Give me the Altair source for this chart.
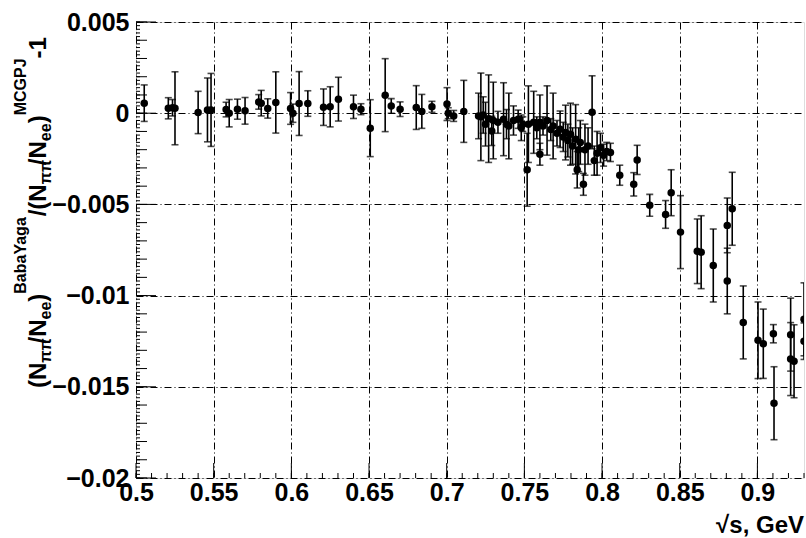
import altair as alt
import numpy as np
import pandas as pd

# Double ratio of pi+pi-/e+e- event counts: BabaYaga vs MCGPJ generators
sqrt_s = [
    0.5053, 0.5208, 0.5235, 0.5251, 0.5400, 0.5460, 0.5483, 0.5580, 0.5600, 0.5653,
    0.5702, 0.5790, 0.5806, 0.5848, 0.5900, 0.5995, 0.6010, 0.6050, 0.6106, 0.6207,
    0.6250, 0.6303, 0.6400, 0.6448, 0.6508, 0.6604, 0.6643, 0.6700, 0.6804, 0.6840,
    0.6905, 0.7002, 0.7010, 0.7045, 0.7110, 0.7205,
    0.7220, 0.7235, 0.7250, 0.7270, 0.7290, 0.7300, 0.7330, 0.7366, 0.7385, 0.7400,
    0.7430, 0.7460, 0.7480, 0.7490, 0.7518, 0.7526, 0.7560, 0.7580, 0.7600, 0.7600,
    0.7620, 0.7646, 0.7670, 0.7685, 0.7710, 0.7730, 0.7750, 0.7765, 0.7780, 0.7797,
    0.7810, 0.7830, 0.7840, 0.7850, 0.7860, 0.7880, 0.7890, 0.7910, 0.7936, 0.7950,
    0.7968, 0.7990, 0.8010, 0.8030, 0.8054,
    0.8114, 0.8204, 0.8226, 0.8307, 0.8409, 0.8445, 0.8505, 0.8613, 0.8638, 0.8716,
    0.8806, 0.8838, 0.8806, 0.8909, 0.9004, 0.9038, 0.9103, 0.9107, 0.9214, 0.9214,
    0.9236, 0.9300, 0.9300,
]
ratio = [
    0.00055, 0.00027, 0.00030, 0.00027, 0.00004, 0.00018, 0.00018, 0.00020, 0.00000, 0.00022,
    0.00013, 0.00062, 0.00055, 0.00026, 0.00059, 0.00026, 0.00000, 0.00053, 0.00053, 0.00033,
    0.00035, 0.00077, 0.00035, 0.00022, -0.00082, 0.00099, 0.00040, 0.00022, 0.00031, 0.00010,
    0.00035, 0.00050, 0.00000, -0.00015, 0.00010, -0.00015,
    -0.00020, -0.00010, -0.00060, -0.00030, -0.00097, -0.00040, -0.00050, -0.00033, -0.00060, -0.00070,
    -0.00040, -0.00033, -0.00080, -0.00060, -0.00310, -0.00060, -0.00050, -0.00080, -0.00050, -0.00225,
    -0.00070, -0.00040, -0.00090, -0.00070, -0.00110, -0.00088, -0.00130, -0.00106, -0.00150, -0.00115,
    -0.00180, -0.00143, -0.00310, -0.00200, -0.00160, -0.00390, -0.00200, -0.00180, 0.00005, -0.00260,
    -0.00220, -0.00190, -0.00230, -0.00210, -0.00215,
    -0.00340, -0.00390, -0.00256, -0.00505, -0.00555, -0.00436, -0.00652, -0.00757, -0.00762, -0.00835,
    -0.00615, -0.00524, -0.00920, -0.01147, -0.01245, -0.01264, -0.01209, -0.01590, -0.01214, -0.01348,
    -0.01360, -0.01130, -0.01250,
]
ratio_err = [
    0.00100, 0.00058, 0.00045, 0.00200, 0.00116, 0.00175, 0.00200, 0.00040, 0.00075, 0.00055,
    0.00073, 0.00040, 0.00070, 0.00053, 0.00168, 0.00087, 0.00050, 0.00175, 0.00070, 0.00100,
    0.00110, 0.00120, 0.00064, 0.00030, 0.00156, 0.00200, 0.00040, 0.00040, 0.00120, 0.00093,
    0.00030, 0.00090, 0.00030, 0.00030, 0.00170, 0.00125,
    0.00240, 0.00100, 0.00120, 0.00240, 0.00080, 0.00210, 0.00060, 0.00200, 0.00080, 0.00180,
    0.00080, 0.00050, 0.00070, 0.00040, 0.00200, 0.00210, 0.00170, 0.00060, 0.00150, 0.00060,
    0.00050, 0.00190, 0.00060, 0.00180, 0.00070, 0.00100, 0.00080, 0.00150, 0.00090, 0.00170,
    0.00100, 0.00190, 0.00100, 0.00120, 0.00120, 0.00060, 0.00140, 0.00100, 0.00200, 0.00080,
    0.00120, 0.00080, 0.00060, 0.00050, 0.00050,
    0.00055, 0.00064, 0.00080, 0.00060, 0.00076, 0.00126, 0.00200, 0.00177, 0.00200, 0.00200,
    0.00150, 0.00200, 0.00180, 0.00200, 0.00210, 0.00190, 0.00050, 0.00200, 0.00200, 0.00200,
    0.00200, 0.00200, 0.00100,
]

x_major = [0.5, 0.55, 0.6, 0.65, 0.7, 0.75, 0.8, 0.85, 0.9]
y_major = [-0.02, -0.015, -0.01, -0.005, 0.0, 0.005]

X_DOMAIN = [0.5, 0.93]
Y_DOMAIN = [-0.02, 0.005]

W, H = 668, 456
LEFT, TOP = 136, 22
FONT = "Liberation Sans"
GRID_DASH = [7, 3, 1, 3]

data = pd.DataFrame({"x": sqrt_s, "y": ratio, "e": ratio_err})
data["lo"] = data["y"] - data["e"]
data["hi"] = data["y"] + data["e"]

xs = alt.Scale(domain=X_DOMAIN, nice=False, zero=False)
ys = alt.Scale(domain=Y_DOMAIN, nice=False, zero=False)

axis_common = dict(
    title=None, format="~g", ticks=False, domain=False,
    grid=True, gridDash=GRID_DASH, gridColor="black", gridWidth=1, gridOpacity=1,
    labelFont=FONT, labelFontWeight="bold", labelFontSize=25, labelColor="black",
    labelFlush=False, labelOverlap=False,
)
x_axis = alt.Axis(values=x_major, labelPadding=2, **axis_common)
y_axis = alt.Axis(values=y_major, labelPadding=7, **axis_common)

base = alt.Chart(data)

bars = base.mark_rule(color="black", strokeWidth=1.6, clip=True).encode(
    x=alt.X("x:Q", scale=xs, axis=x_axis),
    y=alt.Y("lo:Q", scale=ys, axis=y_axis),
    y2="hi:Q",
)
cap_lo = base.mark_tick(color="black", size=7, thickness=1.6, orient="horizontal", clip=True).encode(
    x=alt.X("x:Q", scale=xs), y=alt.Y("lo:Q", scale=ys)
)
cap_hi = base.mark_tick(color="black", size=7, thickness=1.6, orient="horizontal", clip=True).encode(
    x=alt.X("x:Q", scale=xs), y=alt.Y("hi:Q", scale=ys)
)
points = base.mark_point(shape="circle", filled=True, color="black", size=56, opacity=1, clip=True).encode(
    x=alt.X("x:Q", scale=xs), y=alt.Y("y:Q", scale=ys)
)


# Inside-pointing axis ticks in ROOT style
def y_ticks(step, length):
    vals = np.round(np.arange(Y_DOMAIN[0], Y_DOMAIN[1] + 1e-9, step), 6)
    return alt.Chart(pd.DataFrame({"v": vals})).mark_rule(color="black", strokeWidth=1).encode(
        y=alt.Y("v:Q", scale=ys), x=alt.value(0), x2=alt.value(length)
    )


def x_ticks(step, length):
    vals = np.round(np.arange(X_DOMAIN[0], X_DOMAIN[1] + 1e-9, step), 6)
    return alt.Chart(pd.DataFrame({"v": vals})).mark_rule(color="black", strokeWidth=1).encode(
        x=alt.X("v:Q", scale=xs), y=alt.value(H), y2=alt.value(H - length)
    )


ticks = [
    y_ticks(0.005, 20), y_ticks(0.001, 11), y_ticks(0.0002, 4),
    x_ticks(0.05, 15), x_ticks(0.01, 5),
]

# Rotated y title, assembled piece by piece so sub/superscripts get their own
# size and baseline; pieces are chained upward using Helvetica-Bold advances.
ADV = {"(": 0.333, ")": 0.333, "/": 0.278, "N": 0.722, "π": 0.6, "e": 0.556,
       "B": 0.722, "a": 0.556, "b": 0.611, "Y": 0.667, "g": 0.611,
       "M": 0.833, "C": 0.722, "G": 0.778, "P": 0.667, "J": 0.556, "-": 0.333, "1": 0.556}
pieces = [
    ("(N", "main"), ("ππ", "sub"), ("/N", "main"), ("ee", "sub"), (")", "main"),
    ("BabaYaga", "sup"), ("/(N", "main"), ("ππ", "sub"), ("/N", "main"), ("ee", "sub"),
    (")", "main"), ("MCGPJ", "sup"), ("-1", "main"),
]
baseline_x = {"main": 46, "sub": 51, "sup": 26}
font_size = {"main": 24, "sub": 16, "sup": 16}
rows = []
cursor = 388
for text, role in pieces:
    fs = font_size[role]
    rows.append({"t": text, "px": baseline_x[role] - LEFT, "py": cursor - TOP, "fs": fs})
    cursor -= sum(ADV[c] for c in text) * fs
title_df = pd.DataFrame(rows)

y_title = alt.Chart(title_df).mark_text(
    angle=270, align="left", baseline="alphabetic", font=FONT, fontWeight="bold", color="black"
).encode(
    x=alt.X("px:Q", scale=None), y=alt.Y("py:Q", scale=None),
    size=alt.Size("fs:Q", scale=None, legend=None), text="t:N",
)

x_title = alt.Chart(pd.DataFrame({"t": ["√s, GeV"]})).mark_text(
    align="right", baseline="alphabetic", font=FONT, fontWeight="bold", fontSize=24, color="black"
).encode(x=alt.value(W), y=alt.value(H + 55), text="t:N")

chart = alt.layer(bars, cap_lo, cap_hi, points, *ticks, y_title, x_title).properties(
    width=W, height=H,
    autosize=alt.AutoSizeParams(type="none"),
    padding={"left": LEFT, "top": TOP, "right": 806 - LEFT - W, "bottom": 538 - TOP - H},
).configure_view(stroke="black", strokeWidth=2).configure(background="white")

chart.save("out.html", embed_options={"renderer": "svg", "actions": False})
